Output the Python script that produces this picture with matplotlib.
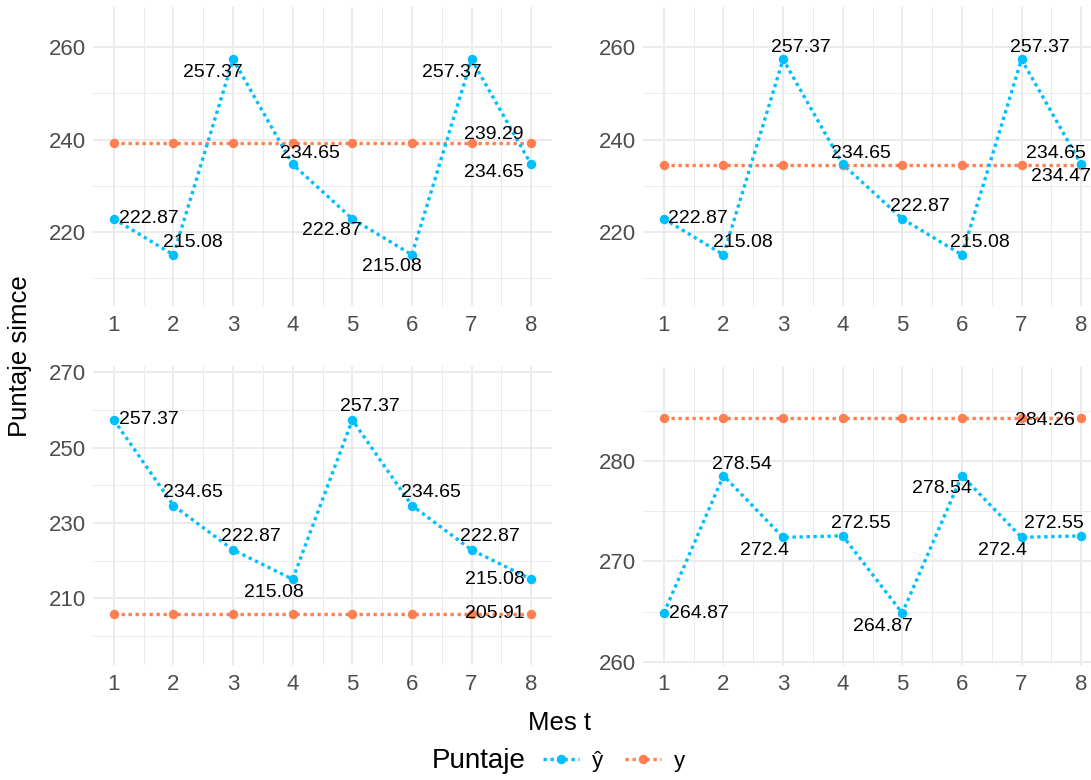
import matplotlib.pyplot as plt
from matplotlib.lines import Line2D

plt.rcParams['font.family'] = ['Liberation Sans', 'DejaVu Sans']

# months on the x axis
meses = [1, 2, 3, 4, 5, 6, 7, 8]

# predicted scores (y hat) for each of the four panels
yhat_1 = [222.87, 215.08, 257.37, 234.65, 222.87, 215.08, 257.37, 234.65]
yhat_2 = [222.87, 215.08, 257.37, 234.65, 222.87, 215.08, 257.37, 234.65]
yhat_3 = [257.37, 234.65, 222.87, 215.08, 257.37, 234.65, 222.87, 215.08]
yhat_4 = [264.87, 278.54, 272.4, 272.55, 264.87, 278.54, 272.4, 272.55]

# observed scores (y) for each panel
y_1 = [239.29, 239.29, 239.29, 239.29, 239.29, 239.29, 239.29, 239.29]
y_2 = [234.47, 234.47, 234.47, 234.47, 234.47, 234.47, 234.47, 234.47]
y_3 = [205.91, 205.91, 205.91, 205.91, 205.91, 205.91, 205.91, 205.91]
y_4 = [284.26, 284.26, 284.26, 284.26, 284.26, 284.26, 284.26, 284.26]

# y axis ticks per panel
major_1 = [220, 240, 260]
major_3 = [210, 230, 250, 270]
major_4 = [260, 270, 280]

BLUE = '#00BFFF'
ORANGE = '#FF7F50'
W, H = 1091, 780

fig = plt.figure(figsize=(W / 100, H / 100), dpi=100)


# Creates an axes from pixel edges of the picture
def px_axes(left, top, right, bottom):
    return fig.add_axes([left / W, 1 - bottom / H, (right - left) / W, (bottom - top) / H])


# label offsets in pixels (dx right, dy down) for each point, last one is the y label
off_1 = [(35, 0), (19, -12), (-20, 13), (17, -11), (-20, 12), (-20, 12), (-20, 13), (-37, 8), (-37, -8)]
off_2 = [(34, 0), (19, -12), (18, -12), (18, -11), (18, -12), (18, -12), (18, -12), (-25, -11), (-20, 11)]
off_3 = [(35, 0), (19, -13), (18, -13), (-19, 13), (18, -13), (19, -13), (18, -13), (-36, 0), (-36, 0)]
off_4 = [(35, 0), (18, -11), (-19, 13), (18, -12), (-19, 13), (-20, 13), (-19, 13), (-27, -12), (-36, 2)]


def fmt(v):
    return ('%.2f' % v).rstrip('0').rstrip('.')


# Draws one panel
def panel(ax, yhat, y, ylim, major, offsets):
    ax.plot(meses, y, color=ORANGE, ls=(0, (1, 1.1)), lw=2.4, dash_capstyle='butt', zorder=2)
    ax.plot(meses, yhat, color=BLUE, ls=(0, (1, 1.1)), lw=2.4, dash_capstyle='butt', zorder=3)
    ax.plot(meses, y, 'o', color=ORANGE, ms=5.8, zorder=4)
    ax.plot(meses, yhat, 'o', color=BLUE, ms=5.8, zorder=5)

    for i, v in enumerate(yhat):
        dx, dy = offsets[i]
        ax.annotate(fmt(v), (meses[i], v), xytext=(dx, -dy), textcoords='offset pixels',
                    ha='center', va='center', fontsize=14, zorder=6)
    dx, dy = offsets[-1]
    ax.annotate(fmt(y[-1]), (meses[-1], y[-1]), xytext=(dx, -dy), textcoords='offset pixels',
                ha='center', va='center', fontsize=14, zorder=6)

    ax.set_xlim(0.65, 8.35)
    ax.set_ylim(*ylim)
    ax.set_xticks(meses)
    ax.set_xticks([m + 0.5 for m in meses[:-1]], minor=True)
    ax.set_yticks(major)
    step = major[1] - major[0]
    ax.set_yticks([m - step / 2 for m in major] + [major[-1] + step / 2], minor=True)
    ax.set_ylim(*ylim)

    ax.grid(which='major', color='#EBEBEB', lw=1.4)
    ax.grid(which='minor', color='#EBEBEB', lw=0.7)
    ax.set_axisbelow(True)
    for s in ax.spines.values():
        s.set_visible(False)
    ax.tick_params(which='both', length=0, labelsize=16, labelcolor='#4D4D4D')
    ax.tick_params(axis='x', pad=6.5)
    ax.tick_params(axis='y', pad=5)


ax1 = px_axes(93, 7, 552, 306)
ax2 = px_axes(643, 7, 1102, 306)
ax3 = px_axes(93, 366, 552, 665)
ax4 = px_axes(643, 367, 1102, 665)

panel(ax1, yhat_1, y_1, (204.0, 268.7), major_1, off_1)
panel(ax2, yhat_2, y_2, (204.0, 268.7), major_1, off_2)
panel(ax3, yhat_3, y_3, (192.3, 271.7), major_3, off_3)
panel(ax4, yhat_4, y_4, (259.7, 289.35), major_4, off_4)

# axis titles
fig.text(559 / W, 1 - 723 / H, 'Mes t', fontsize=18.5, ha='center', va='center')
fig.text(20 / W, 1 - 356 / H, 'Puntaje simce', fontsize=18.5, ha='center', va='center', rotation=90)

# legend at the bottom
fig.text(432 / W, 1 - 761 / H, 'Puntaje', fontsize=20, ha='left', va='center')
handles = [
    Line2D([], [], color=BLUE, ls=(0, (1, 1.1)), lw=2.4, marker='o', ms=5.8),
    Line2D([], [], color=ORANGE, ls=(0, (1, 1.1)), lw=2.4, marker='o', ms=5.8),
]
fig.legend(handles, ['\u0177', 'y'], loc='center left', bbox_to_anchor=(543 / W, 1 - 761 / H),
           ncol=2, frameon=False, fontsize=16, handlelength=1.6, handletextpad=0.6,
           columnspacing=1.0, borderpad=0, borderaxespad=0)

fig.savefig('out.png', dpi=100, facecolor='white')
